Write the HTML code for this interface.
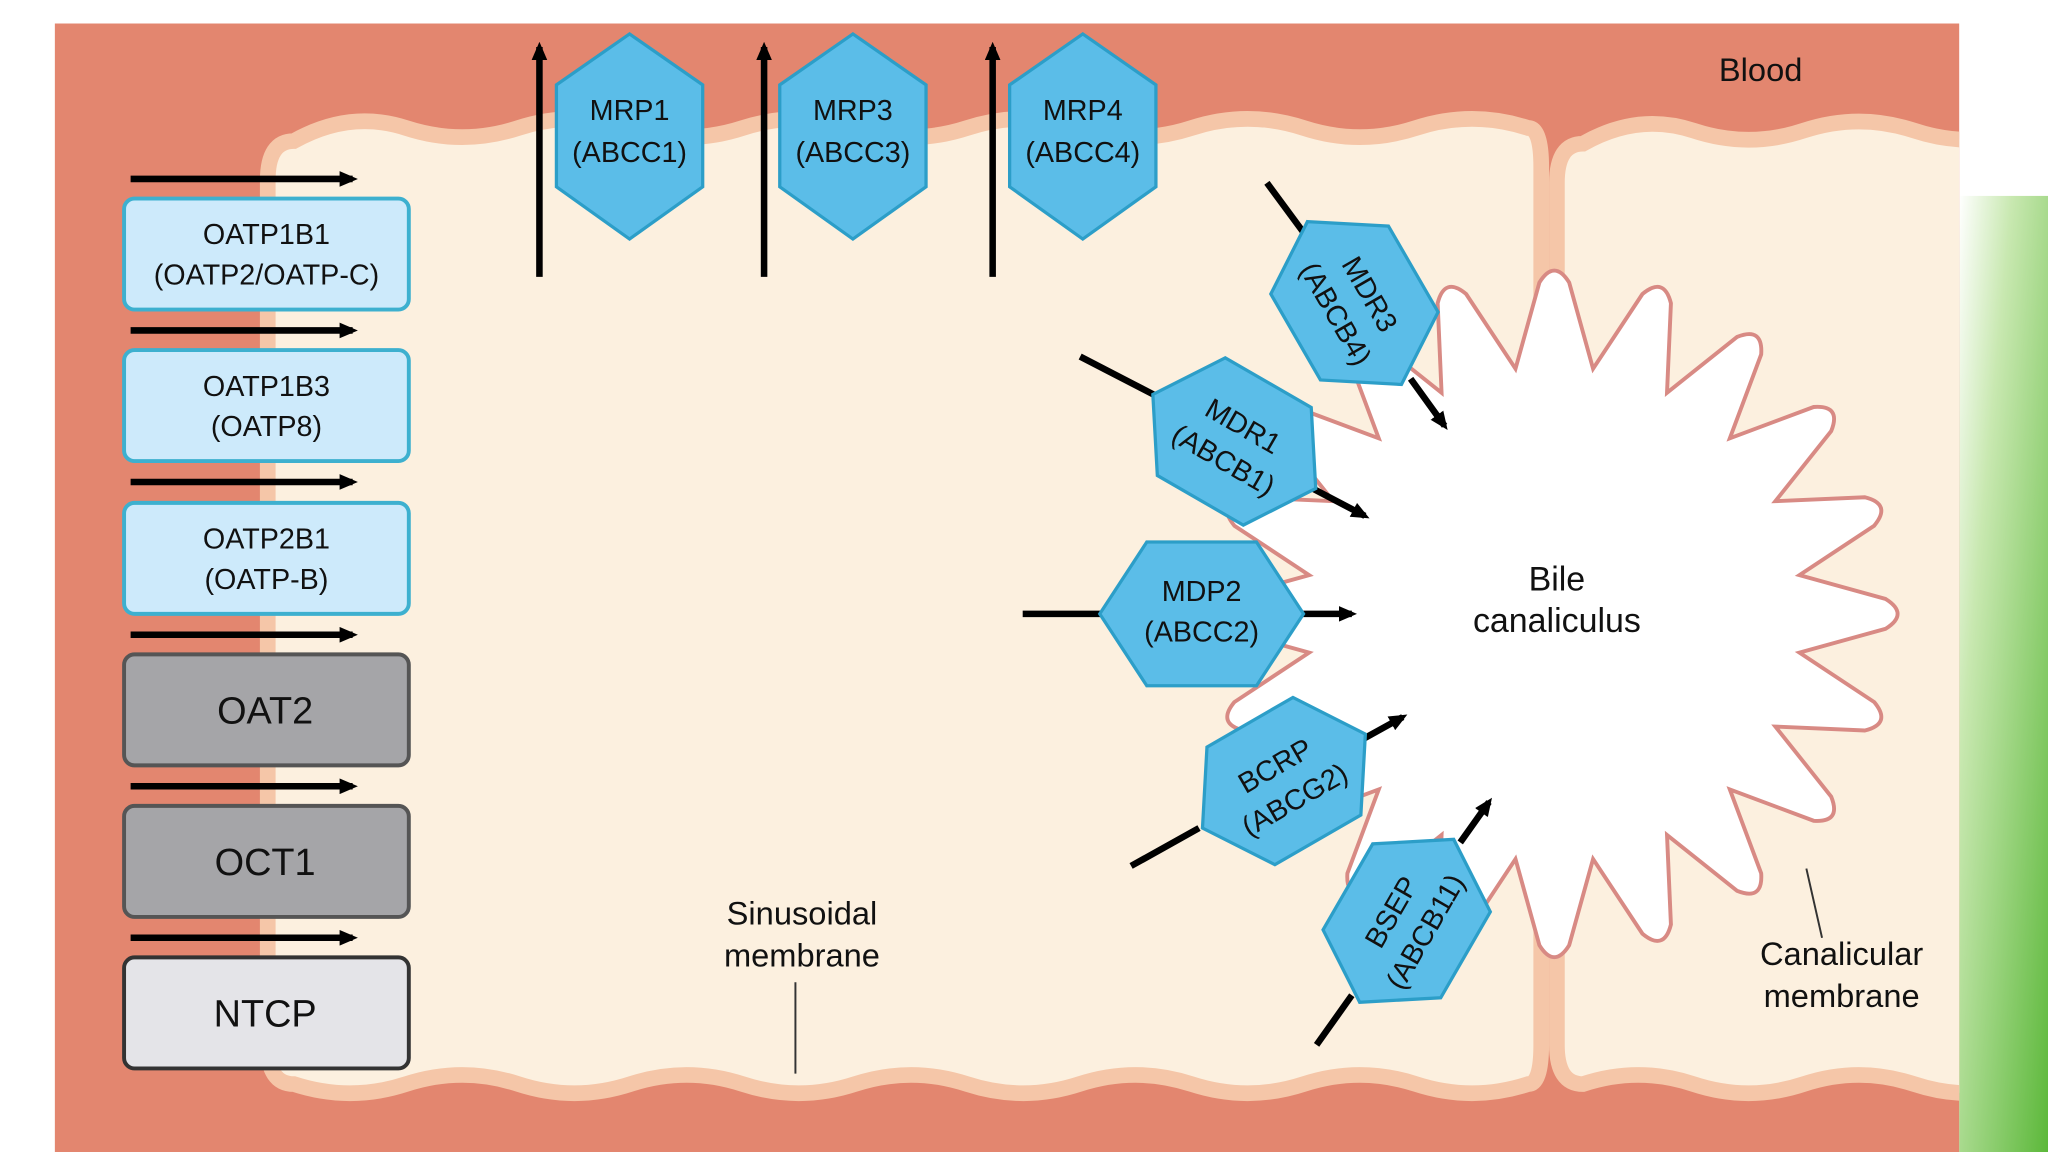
<!DOCTYPE html>
<html><head><meta charset="utf-8"><style>
html,body{margin:0;padding:0;background:#fff;}
svg{display:block}
text{font-family:"Liberation Sans",sans-serif;}
</style></head><body>
<svg id="s" width="2048" height="1152" viewBox="0 0 1568 882" preserveAspectRatio="none" xmlns="http://www.w3.org/2000/svg">
<defs>
<linearGradient id="g" x1="0" y1="0" x2="1" y2="1">
<stop offset="0" stop-color="#ffffff"/><stop offset="0.3" stop-color="#c8e8b0"/><stop offset="1" stop-color="#5cb83a"/>
</linearGradient>
<marker id="b" markerWidth="14" markerHeight="12" refX="10" refY="6" orient="auto" markerUnits="userSpaceOnUse"><path d="M0,0 L14,6 L0,12 z" fill="#000"/></marker>
<clipPath id="cl"><rect x="42" y="18" width="1458" height="864"/></clipPath>
</defs>
<rect x="1500" y="150" width="68" height="732" fill="url(#g)"/>
<rect x="42" y="18" width="1458" height="864" fill="#e3866f"/>
<g clip-path="url(#cl)">
<path id="c1" fill="#fcf0df" stroke="#f5c6a8" stroke-width="12"/>
<path id="c2" fill="#fcf0df" stroke="#f5c6a8" stroke-width="12"/>
</g>
<path id="star" fill="#fff" stroke="#d88a84" stroke-width="3"/>

<g stroke="#000" stroke-width="5" marker-end="url(#b)">
<line x1="100" y1="137" x2="270" y2="137"/><line x1="100" y1="253" x2="270" y2="253"/>
<line x1="100" y1="369" x2="270" y2="369"/><line x1="100" y1="486" x2="270" y2="486"/>
<line x1="100" y1="602" x2="270" y2="602"/><line x1="100" y1="718" x2="270" y2="718"/>
</g>
<g stroke-width="3">
<rect x="95" y="152" width="218" height="85" rx="8" fill="#cdeafb" stroke="#3db0cf"/>
<rect x="95" y="268" width="218" height="85" rx="8" fill="#cdeafb" stroke="#3db0cf"/>
<rect x="95" y="385" width="218" height="85" rx="8" fill="#cdeafb" stroke="#3db0cf"/>
<rect x="95" y="501" width="218" height="85" rx="8" fill="#a5a5a8" stroke="#555"/>
<rect x="95" y="617" width="218" height="85" rx="8" fill="#a5a5a8" stroke="#555"/>
<rect x="95" y="733" width="218" height="85" rx="8" fill="#e4e4e8" stroke="#333"/>
</g>
<g font-size="22" text-anchor="middle" fill="#111">
<text x="204" y="187">OATP1B1</text><text x="204" y="218">(OATP2/OATP-C)</text>
<text x="204" y="303">OATP1B3</text><text x="204" y="334">(OATP8)</text>
<text x="204" y="420">OATP2B1</text><text x="204" y="451">(OATP-B)</text>
<text x="203" y="554" font-size="29">OAT2</text>
<text x="203" y="670" font-size="29">OCT1</text>
<text x="203" y="786" font-size="29">NTCP</text>
</g>

<g stroke="#000" stroke-width="5" marker-end="url(#b)">
<line x1="413" y1="212" x2="413" y2="36"/><line x1="585" y1="212" x2="585" y2="36"/><line x1="760" y1="212" x2="760" y2="36"/>
</g>
<g fill="#5bbde8" stroke="#2c9ec8" stroke-width="2.5">
<polygon points="482,26 538,65 538,143 482,183 426,143 426,65"/>
<polygon points="653,26 709,65 709,143 653,183 597,143 597,65"/>
<polygon points="829,26 885,65 885,143 829,183 773,143 773,65"/>
</g>
<g font-size="22" text-anchor="middle" fill="#111">
<text x="482" y="92">MRP1</text><text x="482" y="124">(ABCC1)</text>
<text x="653" y="92">MRP3</text><text x="653" y="124">(ABCC3)</text>
<text x="829" y="92">MRP4</text><text x="829" y="124">(ABCC4)</text>
</g>

<g stroke="#000" stroke-width="5">
<line x1="783" y1="470" x2="845" y2="470"/>
<line x1="997" y1="470" x2="1035" y2="470" marker-end="url(#b)"/>
<line x1="827" y1="273" x2="885" y2="303"/>
<line x1="1005" y1="374" x2="1045" y2="395" marker-end="url(#b)"/>
<line x1="970" y1="140" x2="998" y2="178"/>
<line x1="1080" y1="290" x2="1106" y2="326" marker-end="url(#b)"/>
<line x1="866" y1="663" x2="918" y2="634"/>
<line x1="1045" y1="565" x2="1074" y2="549" marker-end="url(#b)"/>
<line x1="1008" y1="800" x2="1035" y2="762"/>
<line x1="1118" y1="645" x2="1140" y2="614" marker-end="url(#b)"/>
</g>
<g fill="#5bbde8" stroke="#2c9ec8" stroke-width="2.5">
<g transform="translate(920,470)"><polygon points="-78,0 -42,-55 42,-55 78,0 42,55 -42,55"/></g>
<g transform="translate(945,338) rotate(30)"><polygon points="-72,0 -38,-52 38,-52 72,0 38,52 -38,52"/></g>
<g transform="translate(1037,232) rotate(60)"><polygon points="-72,0 -38,-52 38,-52 72,0 38,52 -38,52"/></g>
<g transform="translate(983,598) rotate(-30)"><polygon points="-72,0 -38,-52 38,-52 72,0 38,52 -38,52"/></g>
<g transform="translate(1077,705) rotate(-60)"><polygon points="-72,0 -38,-52 38,-52 72,0 38,52 -38,52"/></g>
</g>
<g font-size="22" text-anchor="middle" fill="#111">
<text x="920" y="460">MDP2</text><text x="920" y="491">(ABCC2)</text>
<g transform="translate(945,338) rotate(30)"><text y="-6">MDR1</text><text y="24">(ABCB1)</text></g>
<g transform="translate(1037,232) rotate(60)"><text y="-6">MDR3</text><text y="24">(ABCB4)</text></g>
<g transform="translate(983,598) rotate(-30)"><text y="-6">BCRP</text><text y="24">(ABCG2)</text></g>
<g transform="translate(1077,705) rotate(-60)"><text y="-6">BSEP</text><text y="24">(ABCB11)</text></g>
</g>

<g font-size="26" text-anchor="middle" fill="#111">
<text x="1192" y="452">Bile</text><text x="1192" y="484">canaliculus</text>
<text x="614" y="708" font-size="25">Sinusoidal</text><text x="614" y="740" font-size="25">membrane</text>
<text x="1410" y="739" font-size="25">Canalicular</text><text x="1410" y="771" font-size="25">membrane</text>
<text x="1348" y="62" font-size="25">Blood</text>
</g>
<g stroke="#333" stroke-width="1.5">
<line x1="609" y1="752" x2="609" y2="822"/><line x1="1383" y1="665" x2="1395" y2="718"/>
</g>
</svg>
<script>
function cell(x0,x1,top,bot,rightOpen){
 var n=Math.round((x1-x0)/90);var w=(x1-10-(x0+20))/n;
 var d="M"+(x0+20)+","+(top+10);
 for(var i=0;i<n;i++){var xa=x0+20+i*w;d+=" Q"+(xa+w/2)+","+(top+(i%2?14:-14))+" "+(xa+w)+","+top;}
 d+=" Q"+x1+","+top+" "+x1+","+(top+30)+" L"+x1+","+(bot-30)+" Q"+x1+","+bot+" "+(x1-10)+","+bot;
 for(var i=0;i<n;i++){var xa=x1-10-i*w;d+=" Q"+(xa-w/2)+","+(bot+(i%2?-14:14))+" "+(xa-w)+","+bot;}
 d+=" Q"+x0+","+bot+" "+x0+","+(bot-30)+" L"+x0+","+(top+40)+" Q"+x0+","+(top+10)+" "+(x0+20)+","+(top+10)+" Z";return d;}
document.getElementById("c1").setAttribute("d",cell(205,1180,98,830));
document.getElementById("c2").setAttribute("d",cell(1192,1560,100,830));
var cx=1190,cy=470,N=20,ro=262,ri=190,d="";
for(var i=0;i<N;i++){
 var a=(i/N)*2*Math.PI-Math.PI/2,h=Math.PI/N,bw=0.045;
 var p1x=cx+ri*Math.cos(a-h),p1y=cy+ri*Math.sin(a-h);
 var l1x=cx+(ro-8)*Math.cos(a-bw),l1y=cy+(ro-8)*Math.sin(a-bw);
 var l2x=cx+(ro-8)*Math.cos(a+bw),l2y=cy+(ro-8)*Math.sin(a+bw);
 var tx=cx+(ro+10)*Math.cos(a),ty=cy+(ro+10)*Math.sin(a);
 var vx=cx+(ri-12)*Math.cos(a+h),vy=cy+(ri-12)*Math.sin(a+h);
 var p2x=cx+ri*Math.cos(a+h),p2y=cy+ri*Math.sin(a+h);
 if(i==0)d+="M"+p1x.toFixed(1)+","+p1y.toFixed(1);
 d+=" L"+l1x.toFixed(1)+","+l1y.toFixed(1)+" Q"+tx.toFixed(1)+","+ty.toFixed(1)+" "+l2x.toFixed(1)+","+l2y.toFixed(1)+" L"+p2x.toFixed(1)+","+p2y.toFixed(1);
}
document.getElementById("star").setAttribute("d",d+" Z");
</script>
</body></html>
